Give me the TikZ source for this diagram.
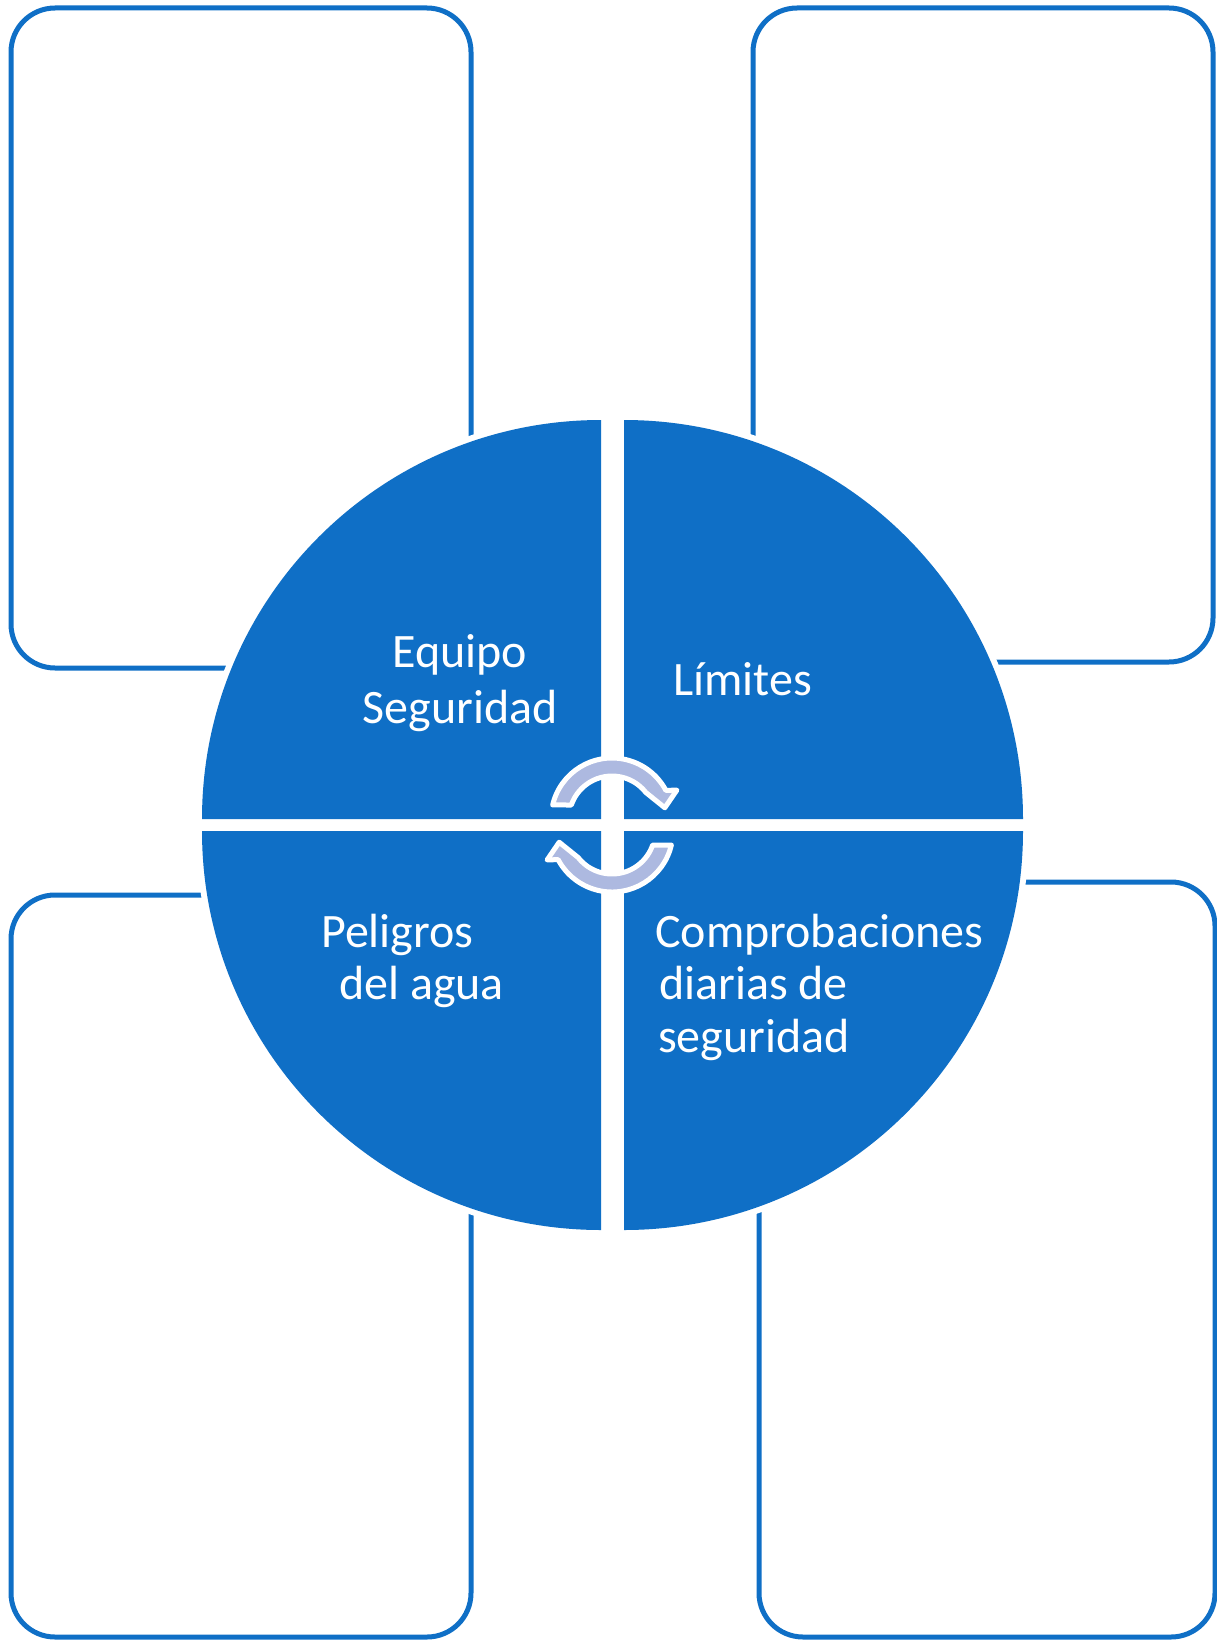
\documentclass[tikz,border=0pt]{standalone}
\usepackage{fontspec}
\setmainfont{Carlito}
\definecolor{qblue}{HTML}{0F6FC6}
\definecolor{lav}{HTML}{ADB9E0}
\tikzset{
  framebox/.style={draw=qblue, line width=5pt, rounded corners=44pt},
  halo/.style={draw=white, line width=12pt, line join=round},
  quad/.style={fill=qblue},
  lbl/.style={text=white, font=\fontsize{48}{57}\selectfont, inner sep=0pt},
  cyclearrow/.style={fill=lav, draw=white, line width=5pt, line join=round}
}
\begin{document}
\begin{tikzpicture}[x=1pt,y=-1pt]
\useasboundingbox (0,0) rectangle (1217,1640);
% outer frames
\draw[framebox] (11,8) rectangle (471,668);
\draw[framebox] (753,8) rectangle (1213,662);
\draw[framebox] (11,895) rectangle (471,1637);
\draw[framebox] (759,882) rectangle (1215,1637);
% quadrant halos
\coordinate (ctl) at (601,819);
\coordinate (ctr) at (624,819);
\coordinate (cbl) at (601,831);
\coordinate (cbr) at (624,831);
\foreach \c/\a in {ctl/180, ctr/270, cbl/90, cbr/0}{
  \draw[halo] (\c) -- ++(\a:399) arc[start angle=\a, end angle=\a+90, radius=399] -- cycle;
}
\foreach \c/\a in {ctl/180, ctr/270, cbl/90, cbr/0}{
  \fill[quad] (\c) -- ++(\a:399) arc[start angle=\a, end angle=\a+90, radius=399] -- cycle;
}
% labels
\node[lbl, anchor=base] (eq1) at (460,667) {Equipo};
\node[lbl, anchor=base] (eq2) at (460,723) {Seguridad};
\node[lbl, anchor=base west] (lim) at (673,695) {Límites};
\node[lbl, anchor=base west] (pel1) at (321,947) {Peligros};
\node[lbl, anchor=base west] (pel2) at (339,999) {del agua};
\node[lbl, anchor=base west] (com1) at (655,947) {Comprobaciones};
\node[lbl, anchor=base west] (com2) at (659,999) {diarias de};
\node[lbl, anchor=base west] (com3) at (658,1052) {seguridad};
% cycle arrows
\begin{scope}[shift={(612,819)}]
\draw[cyclearrow] (-166.7:61) arc[start angle=-166.7, end angle=-28, radius=61]
  -- (-24:71) -- (-12:54) -- (-38:43)
  arc[start angle=-38, end angle=-161, radius=43] -- cycle;
\end{scope}
\begin{scope}[shift={(612,831)}, rotate=180]
\draw[cyclearrow] (-166.7:61) arc[start angle=-166.7, end angle=-28, radius=61]
  -- (-24:71) -- (-12:54) -- (-38:43)
  arc[start angle=-38, end angle=-161, radius=43] -- cycle;
\end{scope}
\end{tikzpicture}
\end{document}
